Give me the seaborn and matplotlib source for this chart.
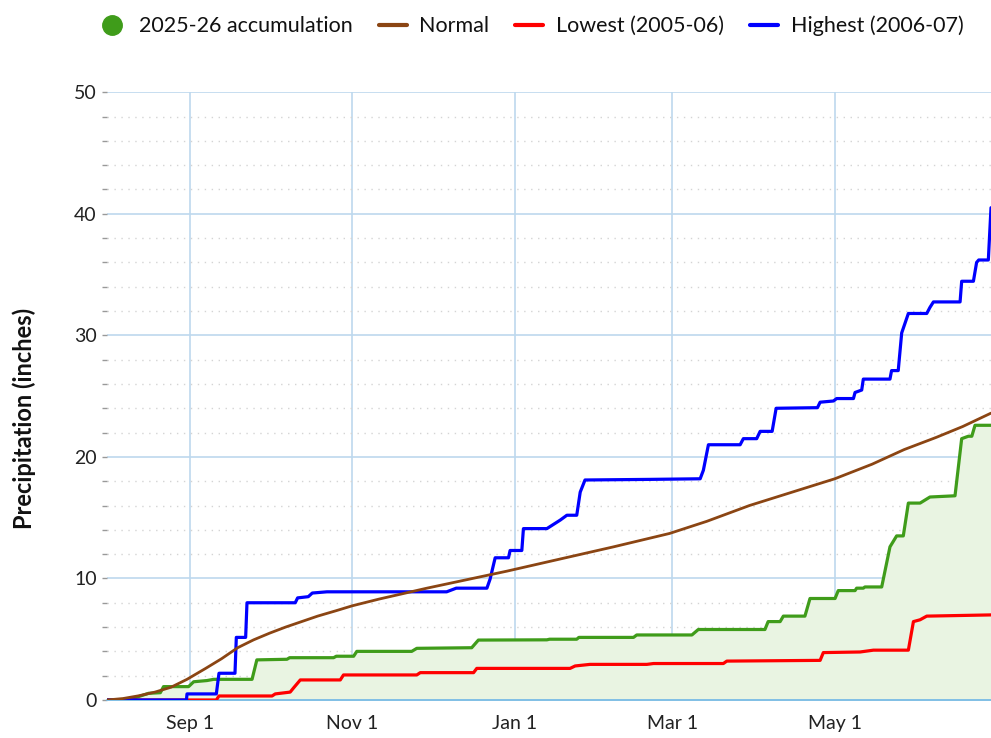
"""
Water-year precipitation accumulation vs normal and record years.
"""

import pandas as pd
import numpy as np
import matplotlib
matplotlib.use('Agg')
import matplotlib.pyplot as plt
import matplotlib.dates as mdates
from matplotlib.lines import Line2D
from matplotlib.ticker import MultipleLocator
import seaborn as sns

# Season start; all day values below are days after this date
season_start = pd.Timestamp('2025-08-01')
season_end_day = 331.6

# Normal accumulation (smooth)
normal_day = [0, 6, 12, 18, 24, 30, 37, 43, 49, 55, 61, 67, 73, 79, 86, 92, 102, 110, 120,
              135, 150, 170, 190, 211, 225, 241, 257, 273, 287, 299, 311, 321, 331.6]
normal_val = [0, 0.12, 0.35, 0.65, 1.05, 1.7, 2.6, 3.4, 4.3, 4.95, 5.5, 6.0, 6.45, 6.9, 7.35, 7.75,
              8.3, 8.7, 9.2, 9.9, 10.6, 11.6, 12.6, 13.7, 14.7, 16.0, 17.1, 18.2, 19.4, 20.6,
              21.6, 22.5, 23.6]

# Highest (2006-07)
high_day = [0, 29.8, 30, 41, 42, 48, 48.5, 52, 52.5, 70.6, 71.5, 75.5, 77, 82.5,
            127.4, 131, 142.5, 143.7, 145.6, 150.6, 151.2, 155.6, 156.2, 165, 170,
            172.5, 176.2, 177.5, 179.3, 203.7, 222.5, 223.7, 225.6, 237.5, 238.7,
            243.7, 245, 249.5, 251, 266.5, 267.5, 272.5, 273.7, 280, 280.6, 283.1,
            283.7, 293.7, 294.3, 296.8, 298.1, 300.6, 307.5, 308.7, 310, 320, 320.6,
            325, 326.2, 327, 330.6, 331.6]
high_val = [0, 0, 0.5, 0.5, 2.2, 2.2, 5.15, 5.15, 8.0, 8.0, 8.4, 8.5, 8.8, 8.9,
            8.9, 9.2, 9.2, 9.95, 11.7, 11.7, 12.3, 12.3, 14.1, 14.1, 14.8,
            15.2, 15.2, 17.1, 18.1, 18.15, 18.2, 18.9, 21.0, 21.0, 21.5,
            21.5, 22.1, 22.1, 24.0, 24.05, 24.5, 24.6, 24.8, 24.8, 25.3, 25.5,
            26.4, 26.4, 27.1, 27.1, 30.2, 31.8, 31.8, 32.3, 32.75, 32.75, 34.45,
            34.45, 36.0, 36.2, 36.2, 40.5]

# Lowest (2005-06)
low_day = [0, 41, 42, 61.9, 63.1, 68.7, 70, 72.5, 87.5, 88.7, 116.2, 117.5, 137.5,
           138.7, 173.7, 175.6, 181.2, 202.5, 205, 231.2, 232.5, 267.5, 268.7,
           282.5, 287.5, 300.6, 302.5, 305, 307.5, 331.6]
low_val = [0, 0, 0.33, 0.33, 0.5, 0.65, 1.0, 1.65, 1.65, 2.06, 2.06, 2.25, 2.25,
           2.6, 2.6, 2.8, 2.93, 2.93, 3.0, 3.0, 3.2, 3.26, 3.9,
           3.95, 4.1, 4.1, 6.45, 6.6, 6.9, 7.0]

# Current season (2025-26)
cur_day = [0, 7.5, 10, 15.6, 20, 21.2, 30.6, 32.5, 37.5, 40, 54.4, 56.2, 67.5, 68.5,
           85, 86, 92.5, 93.7, 114.3, 116.2, 136.8, 139.3, 165, 166, 176.2, 177,
           197.5, 198.7, 219.4, 221.8, 246.8, 248, 252.5, 253.7, 261.8, 263.7,
           273.1, 274.3, 280.6, 281.2, 283.7, 284.3, 290.6, 293.7, 296.2, 298.7,
           300.6, 305, 308.7, 318.1, 320.6, 323.1, 324.4, 325.6, 331.6]
cur_val = [0, 0, 0.15, 0.55, 0.6, 1.1, 1.1, 1.5, 1.6, 1.7, 1.7, 3.3, 3.35, 3.48,
           3.48, 3.6, 3.6, 4.0, 4.0, 4.25, 4.3, 4.93, 4.95, 5.0, 5.0, 5.15,
           5.15, 5.35, 5.35, 5.8, 5.8, 6.45, 6.45, 6.9, 6.9, 8.35,
           8.35, 9.0, 9.0, 9.2, 9.2, 9.3, 9.3, 12.6, 13.5, 13.5,
           16.2, 16.2, 16.7, 16.8, 21.5, 21.7, 21.7, 22.6, 22.6]

series_names = ['2025-26 accumulation', 'Normal', 'Lowest (2005-06)', 'Highest (2006-07)']
series_colors = ['#3f9c1a', '#8b4513', '#ff0000', '#0000ff']


def to_frame(days, vals, name):
    return pd.DataFrame({
        'date': season_start + pd.to_timedelta(np.array(days), unit='D'),
        'precip': vals,
        'series': name,
    })


df = pd.concat([
    to_frame(cur_day, cur_val, series_names[0]),
    to_frame(normal_day, normal_val, series_names[1]),
    to_frame(low_day, low_val, series_names[2]),
    to_frame(high_day, high_val, series_names[3]),
], ignore_index=True)

sns.set_theme(style='white')
plt.rcParams['font.family'] = ['Lato', 'DejaVu Sans']

fig = plt.figure(figsize=(9.91, 7.38), dpi=100)
ax = fig.add_axes([0.108, 0.0515, 0.892, 0.8235])

grid_blue = '#bdd8ee'
cur = df[df['series'] == series_names[0]]
ax.fill_between(cur['date'], 0, cur['precip'], color='#e9f4e2', zorder=1)

# draw order: green, red, blue, brown on top
for name, color, lw in [(series_names[0], series_colors[0], 2.3),
                        (series_names[2], series_colors[2], 2.3),
                        (series_names[3], series_colors[3], 2.3),
                        (series_names[1], series_colors[1], 2.0)]:
    sns.lineplot(data=df[df['series'] == name], x='date', y='precip',
                 estimator=None, sort=False, color=color, linewidth=lw,
                 ax=ax, zorder=3)

ax.set_xlim(season_start, season_start + pd.Timedelta(days=season_end_day))
ax.set_ylim(0, 50)

ax.yaxis.set_major_locator(MultipleLocator(10))
ax.yaxis.set_minor_locator(MultipleLocator(2))
ax.xaxis.set_major_locator(mdates.MonthLocator(bymonth=[9, 11, 1, 3, 5]))
ax.xaxis.set_major_formatter(mdates.DateFormatter('%b %-d'))

ax.grid(True, which='major', color=grid_blue, linewidth=1.2, zorder=0)
ax.grid(True, which='minor', axis='y', color='#d4d4d4', linewidth=1.0,
        linestyle=(0, (1, 4)), zorder=0)
ax.set_axisbelow(True)

for side in ['top', 'right', 'left']:
    ax.spines[side].set_visible(False)
ax.spines['bottom'].set_color('#6fb6e6')
ax.spines['bottom'].set_linewidth(1.2)

ax.tick_params(axis='x', which='major', length=8, width=1.2, color=grid_blue,
               labelsize=14, pad=3, labelcolor='#222222')
ax.tick_params(axis='y', which='major', length=3.5, width=1, color='#999999',
               labelsize=14, pad=4, labelcolor='#222222', left=True)
ax.tick_params(axis='y', which='minor', length=3.5, width=1, color='#999999', left=True)

ax.set_xlabel('')
ax.set_ylabel('Precipitation (inches)', fontsize=17, fontweight='bold',
              color='#111111')
ax.yaxis.set_label_coords(-0.08, 0.464)

handles = [
    Line2D([], [], marker='o', linestyle='none', markersize=14,
           markerfacecolor=series_colors[0], markeredgecolor=series_colors[0]),
    Line2D([], [], color=series_colors[1], linewidth=3),
    Line2D([], [], color=series_colors[2], linewidth=3),
    Line2D([], [], color=series_colors[3], linewidth=3),
]
fig.legend(handles, series_names, loc='upper right', bbox_to_anchor=(0.992, 1.005),
           ncol=4, frameon=False, fontsize=15.5, handlelength=1.3,
           handletextpad=0.6, columnspacing=1.2, labelcolor='#111111')

fig.savefig('out.png', dpi=100)
